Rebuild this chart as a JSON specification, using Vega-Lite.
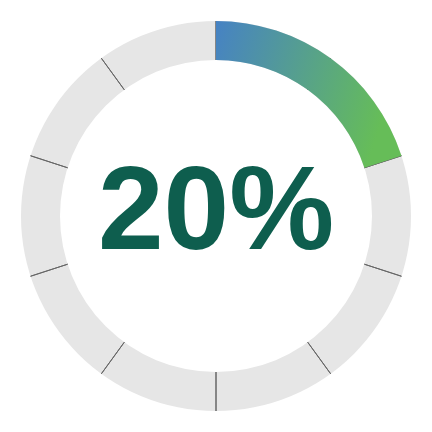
{
  "$schema": "https://vega.github.io/schema/vega-lite/v6.json",
  "width": 432,
  "height": 432,
  "autosize": {"type": "fit", "contains": "padding"},
  "padding": 0,
  "background": "white",
  "config": {"view": {"stroke": null}},
  "datasets": {
    "track": [{"from": 0, "to": 100}],
    "value": [{"from": 0, "to": 20, "label": "20%"}],
    "ticks": [{"at": 0}, {"at": 10}, {"at": 20}, {"at": 30}, {"at": 40}, {"at": 50}, {"at": 60}, {"at": 70}, {"at": 80}, {"at": 90}]
  },
  "layer": [
    {
      "data": {"name": "track"},
      "mark": {"type": "arc", "radius": 195, "radius2": 156, "fill": "#e6e6e6"},
      "encoding": {
        "theta": {"field": "from", "type": "quantitative", "stack": null, "scale": {"domain": [0, 100], "range": [0, 6.283185307179586]}},
        "theta2": {"field": "to"}
      }
    },
    {
      "data": {"name": "ticks"},
      "mark": {"type": "arc", "radius": 195, "radius2": 156, "stroke": "#666666", "strokeWidth": 1, "fill": null},
      "encoding": {
        "theta": {"field": "at", "type": "quantitative", "stack": null},
        "theta2": {"field": "at"}
      }
    },
    {
      "data": {"name": "value"},
      "mark": {
        "type": "arc", "radius": 195, "radius2": 156,
        "fill": {"gradient": "linear", "x1": 0, "y1": 0, "x2": 1, "y2": 0.25,
          "stops": [{"offset": 0, "color": "#4682c4"}, {"offset": 1, "color": "#66bd58"}]}
      },
      "encoding": {
        "theta": {"field": "from", "type": "quantitative", "stack": null},
        "theta2": {"field": "to"}
      }
    },
    {
      "data": {"name": "value"},
      "mark": {"type": "text", "font": "Liberation Sans", "fontWeight": "bold", "fontSize": 118, "color": "#0e5e4e", "align": "center", "baseline": "alphabetic", "dy": 33},
      "encoding": {
        "text": {"field": "label"}
      }
    }
  ]
}
